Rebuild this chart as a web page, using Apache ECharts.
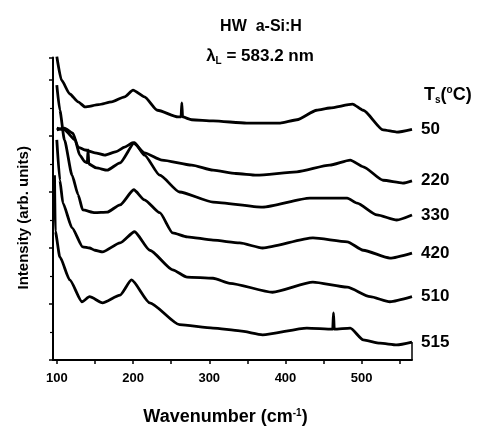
<!DOCTYPE html>
<html>
<head>
<meta charset="utf-8">
<script src="https://cdn.jsdelivr.net/npm/echarts@6/dist/echarts.min.js"></script>
<style>
  html, body { margin: 0; padding: 0; background: #fff; }
  #chart { width: 479px; height: 432px; }
</style>
</head>
<body>
<div id="chart"></div>
<script>
// substrate temperature labels (°C), one spectrum each, top to bottom
const temps = ['50', '220', '330', '420', '510', '515']

// [wavenumber, intensity + offset]
const ts50 = [[100,5.42],[106,5.0],[117,4.75],[128,4.61],[137,4.52],[155,4.56],[172,4.61],[189,4.70],[200,4.82],[215,4.70],[232,4.46],[259,4.34],[263,4.34],[264,4.59],[265,4.34],[277,4.29],[305,4.27],[349,4.23],[393,4.23],[415,4.29],[441,4.46],[458,4.50],[488,4.57],[502,4.46],[528,4.11],[546,4.07],[566,4.12]]
const ts220 = [[100,4.11],[110,4.14],[121,4.05],[128,3.80],[137,3.75],[150,3.70],[163,3.66],[178,3.72],[189,3.80],[200,3.88],[215,3.70],[238,3.57],[277,3.48],[305,3.39],[335,3.33],[362,3.30],[415,3.36],[458,3.48],[485,3.57],[502,3.45],[528,3.21],[554,3.16],[566,3.20]]
const ts330 = [[100,4.14],[110,4.11],[124,3.93],[130,3.66],[137,3.54],[140,3.52],[141,3.75],[142,3.50],[152,3.43],[166,3.39],[183,3.52],[202,3.88],[215,3.66],[235,3.30],[261,3.00],[305,2.82],[370,2.73],[432,2.89],[481,2.89],[494,2.80],[520,2.59],[546,2.50],[566,2.59]]
const ts420 = [[100,4.91],[104,4.46],[110,3.93],[120,3.30],[128,2.95],[134,2.68],[150,2.63],[166,2.64],[183,2.77],[201,3.04],[215,2.86],[235,2.63],[252,2.27],[271,2.20],[305,2.14],[340,2.09],[370,2.00],[436,2.18],[481,2.11],[502,1.96],[537,1.82],[566,1.91]]
const ts510 = [[100,3.93],[104,3.21],[108,2.80],[120,2.36],[134,2.02],[143,2.00],[150,1.96],[160,1.93],[183,2.09],[202,2.29],[222,1.96],[252,1.61],[271,1.48],[305,1.46],[327,1.37],[383,1.21],[436,1.39],[481,1.30],[511,1.13],[537,1.04],[566,1.13]]
const ts515 = [[97,3.30],[98,2.30],[104,1.84],[117,1.43],[133,1.04],[143,1.13],[160,1.02],[183,1.16],[198,1.43],[222,1.02],[261,0.63],[305,0.57],[340,0.52],[370,0.45],[428,0.57],[462,0.55],[463,0.84],[464,0.55],[485,0.57],[502,0.36],[524,0.30],[546,0.27],[566,0.32]]

const xTicks = [100, 150, 200, 250, 300, 350, 400, 450, 500, 550]
const xLabels = [100, 200, 300, 400, 500]

const spectra = [ts50, ts220, ts330, ts420, ts510, ts515]
const font = 'Liberation Sans, Arial, sans-serif'

var chart = echarts.init(document.getElementById('chart'))

var series = spectra.map(function (d, i) {
  var s = {
    name: temps[i],
    type: 'line',
    data: d,
    showSymbol: false,
    symbol: 'none',
    smooth: 0.2,
    smoothMonotone: 'x',
    lineStyle: { color: '#000', width: 2.8 },
    endLabel: {
      show: true,
      formatter: '{a}',
      distance: 9,
      color: '#000',
      fontFamily: font,
      fontWeight: 'bold',
      fontSize: 17,
    },
    z: 3,
  }
  if (i === spectra.length - 1) {
    // right-hand bracket closing the bottom trace onto the axis
    var last = d[d.length - 1]
    s.markLine = {
      silent: true,
      symbol: 'none',
      label: { show: false },
      lineStyle: { color: '#000', width: 1.5, type: 'solid' },
      data: [[{ coord: [last[0], 0] }, { coord: [last[0], last[1]] }]],
    }
  }
  return s
})

var option = {
  animation: false,
  backgroundColor: '#fff',
  title: [
    {
      text: 'HW  a-Si:H',
      left: 256,
      top: 14,
      textAlign: 'center',
      textStyle: { fontFamily: font, fontWeight: 'bold', fontSize: 16, color: '#000' },
    },
    {
      text: '{a|λ}{s|L}{a| = 583.2 nm}',
      left: 255,
      top: 42,
      textAlign: 'center',
      textStyle: {
        rich: {
          a: { fontFamily: font, fontWeight: 'bold', fontSize: 17, color: '#000' },
          s: { fontFamily: font, fontWeight: 'bold', fontSize: 10, color: '#000', verticalAlign: 'bottom', padding: [9, 0, 0, 0] },
        },
      },
    },
    {
      text: '{a|T}{s|s}{a|(}{p|o}{a|C)}',
      left: 419,
      top: 80,
      textStyle: {
        rich: {
          a: { fontFamily: font, fontWeight: 'bold', fontSize: 18, color: '#000' },
          s: { fontFamily: font, fontWeight: 'bold', fontSize: 10, color: '#000', verticalAlign: 'bottom', padding: [10, 0, 0, 0] },
          p: { fontFamily: font, fontWeight: 'bold', fontSize: 10, color: '#000', verticalAlign: 'top', padding: [0, 0, 9, 0] },
        },
      },
    },
  ],
  grid: {
    left: 53,
    right: 67,
    top: 57.6,
    bottom: 72,
    containLabel: false,
  },
  xAxis: {
    type: 'value',
    min: 95,
    max: 566,
    splitLine: { show: false },
    axisLine: { show: true, lineStyle: { color: '#000', width: 2 } },
    axisTick: {
      show: true,
      inside: false,
      length: 4,
      customValues: xTicks,
      lineStyle: { color: '#000', width: 1.5 },
    },
    axisLabel: {
      customValues: xLabels,
      margin: 12,
      color: '#000',
      fontFamily: font,
      fontWeight: 'bold',
      fontSize: 13,
    },
    name: '{a|Wavenumber (cm}{p|-1}{a|)}',
    nameLocation: 'middle',
    nameGap: 48,
    nameTextStyle: {
      padding: [0, 14, 0, 0],
      rich: {
        a: { fontFamily: font, fontWeight: 'bold', fontSize: 18, color: '#000' },
        p: { fontFamily: font, fontWeight: 'bold', fontSize: 10, color: '#000', verticalAlign: 'top', padding: [0, 0, 9, 0] },
      },
    },
  },
  yAxis: {
    type: 'value',
    min: 0,
    max: 5.4,
    interval: 1,
    splitLine: { show: false },
    axisLine: { show: true, lineStyle: { color: '#000', width: 2 } },
    axisTick: { show: true, inside: false, length: 4, lineStyle: { color: '#000', width: 1.5 } },
    minorTick: { show: true, splitNumber: 2, length: 3, lineStyle: { color: '#000', width: 1.2 } },
    axisLabel: { show: false },
    name: 'Intensity (arb. units)',
    nameLocation: 'middle',
    nameGap: 22,
    nameTextStyle: {
      fontFamily: font,
      fontWeight: 'bold',
      fontSize: 15,
      color: '#000',
      padding: [0, 0, 0, -18],
    },
  },
  series: series,
}

chart.setOption(option)
</script>
</body>
</html>
